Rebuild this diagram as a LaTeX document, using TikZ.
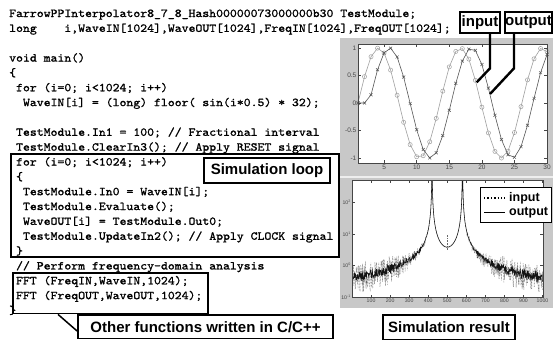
\documentclass[tikz,border=0pt]{standalone}
\usepackage{fontspec}
\setmainfont{Liberation Sans}
\newfontfamily\codefam{lmmono10-regular.otf}[FakeStretch=1.095,FakeBold=1.2]
\usetikzlibrary{plotmarks}
\definecolor{panelgray}{RGB}{200,200,200}
\definecolor{incol}{RGB}{160,160,160}
\definecolor{outcol}{RGB}{85,85,85}
\definecolor{ticklab}{RGB}{70,70,70}
\definecolor{specin}{RGB}{105,105,105}
\definecolor{specout}{RGB}{20,20,20}
\newcommand\codefont{\fontsize{12}{13}\selectfont\codefam}
\newcommand\cind{\hphantom{0}}
\newcommand\tenpow[1]{10\raisebox{1.8pt}{\fontsize{3.6}{4}\selectfont#1}}
\tikzset{
  codeline/.style={anchor=base west, inner sep=0pt, font=\codefont},
  codebox/.style={draw=black, line width=1.7pt, inner sep=0pt},
  lblbox/.style={draw=black, line width=1.8pt, fill=white, inner sep=0pt, font=\bfseries\fontsize{15}{15}\selectfont},
  callout/.style={draw=black, line width=2.4pt},
  ticklbl/.style={inner sep=0pt, text=ticklab, font=\fontsize{6.5}{7}\selectfont},
  ticklbls/.style={inner sep=0pt, text=ticklab, font=\fontsize{5.2}{6}\selectfont},
  axisline/.style={draw=ticklab, line width=0.4pt},
  legtext/.style={anchor=west, inner sep=0pt, font=\bfseries\fontsize{12.5}{13}\selectfont},
  declare function={g(\u)=858/pow(abs(\u-420),1.4)+858/pow(abs(\u-580),1.4);
                    tap(\u)=min(1,max(0,(abs(\u-500)-80)/220));}
}
\begin{document}
\begin{tikzpicture}[x=1pt,y=-1pt]
\useasboundingbox[fill=white] (0,0) rectangle (553,341);

% ---------------- code (line k: baseline 17 + 14.85 k) ----------------
\node[codeline] (l0)  at (9,17.00)  {FarrowPPInterpolator8\_7\_8\_Hash00000073000000b30 TestModule;};
\node[codeline] (l1)  at (9,31.85)  {long\cind\cind\cind\cind i,WaveIN[1024],WaveOUT[1024],FreqIN[1024],FreqOUT[1024];};
\node[codeline] (l3)  at (9,61.55)  {void main()};
\node[codeline] (l4)  at (9,76.40)  {\{};
\node[codeline] (l5)  at (9,91.25)  {\cind for (i=0; i<1024; i++)};
\node[codeline] (l6)  at (9,106.10) {\cind\cind WaveIN[i] = (long) floor( sin(i*0.5) * 32);};
\node[codeline] (l8)  at (9,135.80) {\cind TestModule.In1 = 100; // Fractional interval};
\node[codeline] (l9)  at (9,150.65) {\cind TestModule.ClearIn3(); // Apply RESET signal};
\node[codeline] (l10) at (9,165.50) {\cind for (i=0; i<1024; i++)};
\node[codeline] (l11) at (9,180.35) {\cind \{};
\node[codeline] (l12) at (9,195.20) {\cind\cind TestModule.In0 = WaveIN[i];};
\node[codeline] (l13) at (9,210.05) {\cind\cind TestModule.Evaluate();};
\node[codeline] (l14) at (9,224.90) {\cind\cind WaveOUT[i] = TestModule.Out0;};
\node[codeline] (l15) at (9,239.75) {\cind\cind TestModule.UpdateIn2(); // Apply CLOCK signal};
\node[codeline] (l16) at (9,254.60) {\cind \}};
\node[codeline] (l17) at (9,269.45) {\cind // Perform frequency-domain analysis};
\node[codeline] (l18) at (9,284.30) {\cind FFT (FreqIN,WaveIN,1024);};
\node[codeline] (l19) at (9,299.15) {\cind FFT (FreqOUT,WaveOUT,1024);};
\node[codeline] (l20) at (9,314.00) {\}};

% code boxes
\node[codebox, anchor=north west, minimum width=328pt, minimum height=103pt] (loopbox) at (10,153.3) {};
\node[lblbox, minimum width=126pt, minimum height=25pt] (looplbl) at (267,170.5) {Simulation loop};
\node[codebox, anchor=north west, minimum width=195pt, minimum height=40.5pt] (fftbox) at (12,272.2) {};
\node[lblbox, minimum width=255pt, minimum height=23.5pt] (otherbox) at (205.5,326.75) {Other functions written in C/C++};
\coordinate (diagA) at (58,312);
\coordinate (diagB) at (0,331);
\draw[line width=1.5pt] (fftbox.south -| diagA) -- (otherbox.west |- diagB);

% ---------------- plots panel ----------------
\fill[panelgray] (340,38) rectangle (553,308);
\draw[white!70!panelgray, line width=1.6pt] (340,176.8) -- (553,176.8);

% top plot
\begin{scope}[shift={(351.48,103)}, x=6.52pt, y=55pt]
  \fill[white] (1,-1.091) rectangle (30,1.073);
  \begin{scope}
    \clip (0.6,-1.2) rectangle (30.4,1.15);
    \draw[incol, line width=0.6pt] plot[domain=1:30, samples=30, mark=o, mark size=2.1pt, mark options={incol, line width=0.5pt}] (\x,{sin(deg((\x-1)*0.5))});
    \draw[outcol, line width=0.6pt] plot[domain=1:30, samples=30, mark=x, mark size=2.1pt, mark options={outcol, line width=0.5pt}] (\x,{(\x<2.5) ? 0 : sin(deg((\x-2.7)*0.5))});
  \end{scope}
  \draw[axisline] (1,-1.091) rectangle (30,1.073);
  \foreach \t in {5,10,...,30} {
    \draw[axisline] (\t,-1.091) -- ++(0pt,3pt);
    \draw[axisline] (\t,1.073) -- ++(0pt,-3pt);
    \node[ticklbl, anchor=north] (xt\t) at ([yshift=-2pt]\t,-1.091) {\t};
  }
  \foreach \v/\l [count=\i] in {1/1,0.5/0.5,0/0,-0.5/-0.5,-1/-1} {
    \draw[axisline] (1,\v) -- ++(3pt,0pt);
    \draw[axisline] (30,\v) -- ++(-3pt,0pt);
    \node[ticklbl, anchor=east] (yt\i) at ([xshift=-1.5pt]1,\v) {\l};
  }
\end{scope}

% bottom plot
\begin{scope}[shift={(352,265.5)}, x=0.1905pt, y=31.5pt]
  \fill[white] (0,-1) rectangle (1003,2.714);
  \begin{scope}
    \clip (0,-1) rectangle (1003,2.714);
    \pgfmathsetseed{7}
    \draw[specin, densely dotted, line width=0.5pt] plot[domain=2:1000, samples=600] (\x,{log10(0.05+g(\x))+0.45*tap(\x)*rand});
    \draw[specin, densely dotted, line width=0.6pt] (500,0.5) -- (500,1.0);
    \draw[specout, line width=0.55pt] plot[domain=2:1000, samples=600] (\x,{log10(0.12+g(\x))+0.15*tap(\x)*rand});
  \end{scope}
  \draw[axisline] (0,-1) rectangle (1003,2.714);
  \foreach \t in {100,200,...,1000} {
    \draw[axisline] (\t,-1) -- ++(0pt,2.5pt);
    \draw[axisline] (\t,2.714) -- ++(0pt,-2.5pt);
    \node[ticklbls, anchor=north] (bxt\t) at ([yshift=-2pt]\t,-1) {\t};
  }
  \foreach \v/\l [count=\i] in {2/2,1/1,0/0,-1/-1} {
    \draw[axisline] (0,\v) -- ++(3pt,0pt);
    \draw[axisline] (1003,\v) -- ++(-3pt,0pt);
    \node[ticklbls, anchor=east] (byt\i) at ([xshift=-1.5pt]0,\v) {\tenpow{\l}};
  }
\end{scope}

% legend
\node[draw=black, line width=0.9pt, fill=white, anchor=north west, minimum width=71pt, minimum height=35pt, inner sep=0pt] (legend) at (480,187) {};
\coordinate (lgA) at (484,198);
\coordinate (lgB) at (505,198);
\coordinate (lgC) at (484,212.5);
\coordinate (lgD) at (505,212.5);
\draw[line width=1.4pt, dotted] (lgA) -- (lgB);
\draw[line width=1.6pt] (lgC) -- (lgD);
\node[legtext] (legin) at (509,198) {input};
\node[legtext] (legout) at (509,212.5) {output};

% callouts
\node[lblbox, minimum width=40pt, minimum height=21pt] (inbox) at (480,22.4) {input};
\node[lblbox, minimum width=47pt, minimum height=21pt] (outbox) at (528.5,22.4) {output};
\coordinate (inbend) at (490,68.3);
\coordinate (inpt) at (476.7,82.3);
\coordinate (outbend) at (514,68.3);
\coordinate (outpt) at (490,94);
\draw[callout] (inbend |- inbox.south) -- (inbend) -- (inpt);
\draw[callout] (outbend |- outbox.south) -- (outbend) -- (outpt);

\node[lblbox, minimum width=132pt, minimum height=24.5pt] (simres) at (449,327.25) {Simulation result};
\end{tikzpicture}
\end{document}
